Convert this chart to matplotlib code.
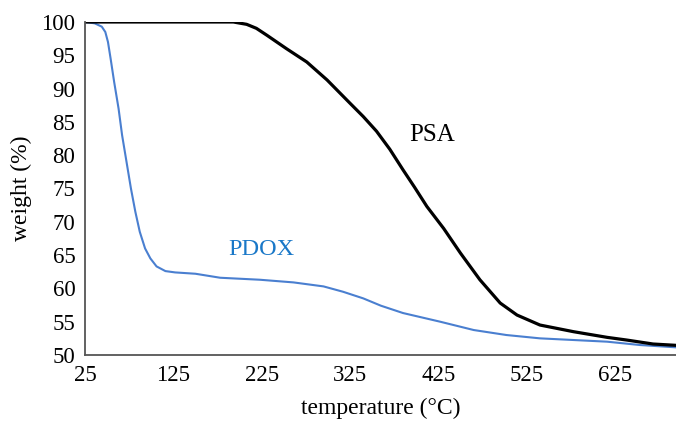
import matplotlib
matplotlib.use("Agg")
import matplotlib.pyplot as plt

# PSA (black) TGA curve
psa_temp = [25, 100, 155, 193, 208, 219, 231, 253, 276, 299, 325, 340, 355, 370, 385, 398,
            412, 431, 450, 472, 495, 514, 540, 578, 616, 638, 668, 694]
psa_weight = [100, 100, 100, 100, 99.65, 99.05, 98.0, 96.0, 94.0, 91.3, 87.8, 85.8, 83.6, 80.9,
              77.8, 75.2, 72.3, 69.0, 65.3, 61.3, 57.8, 56.0, 54.5, 53.5, 52.65, 52.25, 51.65, 51.45]

# PDOX (blue) TGA curve
pdox_temp = [25, 36, 44, 48, 51, 54, 58, 63, 67, 72, 77, 82, 87, 93, 99, 106, 116, 127, 150,
             178, 223, 261, 295, 317, 340, 360, 385, 427, 465, 502, 540, 578, 616, 653, 694]
pdox_weight = [100, 99.8, 99.3, 98.5, 97.0, 94.5, 91.0, 87.0, 83.0, 79.0, 75.0, 71.5, 68.5, 66.0,
               64.5, 63.3, 62.6, 62.4, 62.2, 61.6, 61.3, 60.9, 60.3, 59.5, 58.5, 57.4, 56.3, 55.0,
               53.75, 53.0, 52.5, 52.25, 52.0, 51.5, 51.15]

x_ticks = [25, 125, 225, 325, 425, 525, 625]
y_ticks = [50, 55, 60, 65, 70, 75, 80, 85, 90, 95, 100]

plt.rcParams['font.family'] = ['Liberation Serif', 'DejaVu Serif']

fig = plt.figure(figsize=(6.76, 4.22), dpi=100)
ax = fig.add_axes([85 / 676, (422 - 355) / 422, (676 - 85) / 676, (355 - 22) / 422])

ax.plot(pdox_temp, pdox_weight, color='#4a7fd0', lw=1.5, solid_capstyle='round',
        solid_joinstyle='round')
ax.plot(psa_temp, psa_weight, color='#000000', lw=2.3, solid_capstyle='round',
        solid_joinstyle='round')

ax.set_xlim(25, 694)
ax.set_ylim(50, 100)
ax.set_xticks(x_ticks)
ax.set_yticks(y_ticks)
ax.tick_params(length=0, labelsize=16.5, pad=7)

for side in ['top', 'right']:
    ax.spines[side].set_visible(False)
for side in ['left', 'bottom']:
    ax.spines[side].set_color('#555555')
    ax.spines[side].set_linewidth(1.3)

ax.set_xlabel('temperature (°C)', fontsize=17, labelpad=9)
ax.set_ylabel('weight (%)', fontsize=17, labelpad=7)

ax.text(418, 83.0, 'PSA', fontsize=18, color='black', ha='center', va='center')
ax.text(225, 65.8, 'PDOX', fontsize=17.5, color='#1a78c8', ha='center', va='center')

fig.savefig('out.png', dpi=100)
